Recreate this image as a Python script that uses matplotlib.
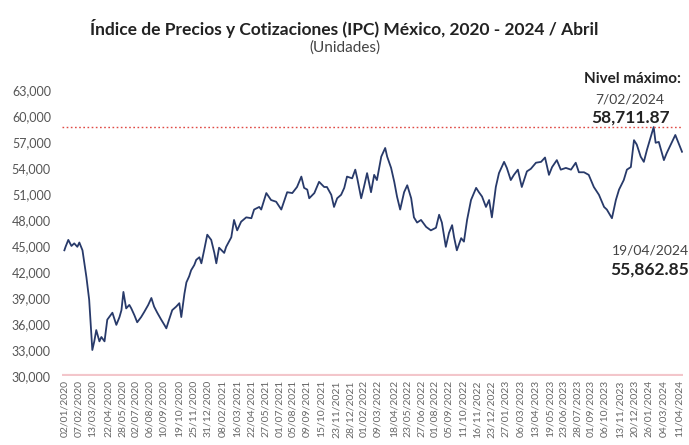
import pandas as pd
import matplotlib.pyplot as plt

# Valores (aprox. semanales)
fechas = [
    "2020-01-02", "2020-01-05", "2020-01-12", "2020-01-20", "2020-01-27", "2020-02-04",
    "2020-02-09", "2020-02-17", "2020-02-27", "2020-03-05", "2020-03-13", "2020-03-18",
    "2020-03-23", "2020-03-31", "2020-04-05", "2020-04-13", "2020-04-20", "2020-04-28",
    "2020-05-03", "2020-05-13", "2020-05-21", "2020-05-26", "2020-05-31", "2020-06-07",
    "2020-06-15", "2020-06-20", "2020-06-28", "2020-07-05", "2020-07-15", "2020-07-23",
    "2020-08-02", "2020-08-10", "2020-08-17", "2020-08-25", "2020-09-04", "2020-09-12",
    "2020-09-17", "2020-09-24", "2020-10-02", "2020-10-12", "2020-10-20", "2020-10-25",
    "2020-11-02", "2020-11-07", "2020-11-14", "2020-11-19", "2020-11-27", "2020-12-02",
    "2020-12-10", "2020-12-15", "2020-12-22", "2020-12-30", "2021-01-09", "2021-01-17",
    "2021-01-22", "2021-01-29", "2021-02-11", "2021-02-16", "2021-03-01", "2021-03-08",
    "2021-03-16", "2021-03-26", "2021-04-08", "2021-04-21", "2021-04-28", "2021-05-11",
    "2021-05-16", "2021-05-29", "2021-06-10", "2021-06-23", "2021-07-06", "2021-07-21",
    "2021-08-03", "2021-08-15", "2021-08-26", "2021-09-02", "2021-09-10", "2021-09-15",
    "2021-09-28", "2021-10-10", "2021-10-23", "2021-10-30", "2021-11-10", "2021-11-17",
    "2021-11-25", "2021-12-05", "2021-12-13", "2021-12-20", "2022-01-02", "2022-01-10",
    "2022-01-15", "2022-01-25", "2022-02-01", "2022-02-09", "2022-02-19", "2022-02-27",
    "2022-03-06", "2022-03-17", "2022-03-27", "2022-04-01", "2022-04-11", "2022-04-19",
    "2022-04-26", "2022-05-04", "2022-05-14", "2022-05-22", "2022-06-01", "2022-06-08",
    "2022-06-16", "2022-06-26", "2022-07-09", "2022-07-21", "2022-08-03", "2022-08-11",
    "2022-08-18", "2022-08-28", "2022-09-05", "2022-09-13", "2022-09-18", "2022-09-25",
    "2022-10-06", "2022-10-13", "2022-10-21", "2022-10-31", "2022-11-13", "2022-11-20",
    "2022-11-28", "2022-12-08", "2022-12-16", "2022-12-23", "2023-01-02", "2023-01-10",
    "2023-01-23", "2023-01-30", "2023-02-09", "2023-02-17", "2023-02-27", "2023-03-09",
    "2023-03-22", "2023-04-01", "2023-04-14", "2023-04-27", "2023-05-07", "2023-05-17",
    "2023-05-25", "2023-06-06", "2023-06-16", "2023-06-29", "2023-07-12", "2023-07-24",
    "2023-08-01", "2023-08-14", "2023-08-26", "2023-09-08", "2023-09-21", "2023-10-04",
    "2023-10-11", "2023-10-24", "2023-11-03", "2023-11-11", "2023-11-23", "2023-12-01",
    "2023-12-11", "2023-12-19", "2023-12-26", "2024-01-05", "2024-01-13", "2024-01-21",
    "2024-02-07", "2024-02-12", "2024-02-20", "2024-03-04", "2024-03-11", "2024-04-02",
    "2024-04-10", "2024-04-19",
]
ipc = [
    44500, 44900, 45700, 45000, 45300, 44900,
    45400, 44500, 41400, 38800, 33000, 34000,
    35300, 34000, 34500, 34000, 36500, 37000,
    37300, 35900, 36800, 37600, 39700, 37800,
    38200, 37800, 37000, 36200, 36800, 37400,
    38200, 39000, 38000, 37300, 36500, 35900,
    35500, 36500, 37600, 38000, 38400, 36800,
    39500, 40800, 41500, 42200, 42800, 43400,
    43700, 43000, 44500, 46300, 45700, 44200,
    43000, 44800, 44200, 44900, 46000, 48000,
    46800, 47800, 48300, 48200, 49200, 49500,
    49200, 51100, 50300, 50100, 49200, 51200,
    51100, 51800, 53000, 51700, 51500, 50500,
    51100, 52400, 51800, 51800, 50900, 49500,
    50500, 50900, 51700, 53000, 52800, 53800,
    52800, 50500, 51800, 53400, 51200, 53200,
    52600, 55300, 56300, 55300, 54000, 52400,
    50700, 49200, 51200, 52000, 50500, 48300,
    47700, 48000, 47200, 46800, 47100, 48600,
    47700, 44900, 46500, 47400, 46000, 44500,
    45900, 45500, 48000, 50300, 51700, 51200,
    50700, 49500, 50300, 48300, 51800, 53400,
    54700, 54000, 52600, 53200, 53800, 51800,
    53600, 53900, 54600, 54700, 55200, 53200,
    54100, 54900, 53800, 54000, 53800, 54600,
    53500, 53500, 53200, 51800, 50900, 49500,
    49200, 48200, 50300, 51500, 52600, 53800,
    54100, 57200, 56700, 55300, 54700, 56100,
    58711.87, 56900, 57000, 54900, 55700, 57800,
    56900, 55862.85,
]
etiquetas_x = [
    "02/01/2020", "07/02/2020", "13/03/2020", "22/04/2020", "28/05/2020", "02/07/2020",
    "06/08/2020", "10/09/2020", "19/10/2020", "25/11/2020", "31/12/2020", "08/02/2021",
    "16/03/2021", "22/04/2021", "27/05/2021", "01/07/2021", "05/08/2021", "09/09/2021",
    "15/10/2021", "23/11/2021", "28/12/2021", "01/02/2022", "09/03/2022", "18/04/2022",
    "23/05/2022", "27/06/2022", "01/08/2022", "05/09/2022", "11/10/2022", "16/11/2022",
    "23/12/2022", "27/01/2023", "06/03/2023", "13/04/2023", "19/05/2023", "23/06/2023",
    "28/07/2023", "01/09/2023", "06/10/2023", "13/11/2023", "20/12/2023", "26/01/2024",
    "04/03/2024", "11/04/2024",
]
maximo = 58711.87
fecha_max = "7/02/2024"
ultimo = 55862.85
fecha_ult = "19/04/2024"

plt.rcParams['font.family'] = ['Lato', 'DejaVu Sans']

x = pd.to_datetime(fechas)
ticks = pd.to_datetime(etiquetas_x, format="%d/%m/%Y")

fig = plt.figure(figsize=(6.89, 4.45), dpi=100)
ax = fig.add_axes([0.09, 0.155, 0.901, 0.643])

ax.plot(x, ipc, color="#283a6a", linewidth=1.3)
ax.axhline(maximo, color="#e04a44", linestyle=(0, (1.2, 1.8)), linewidth=1.0)
ax.axhline(30000, color="#f3c6cb", linewidth=3, zorder=0)

ax.set_ylim(30000, 63000)
ax.set_xlim(x[0] - pd.Timedelta(days=6), x[-1] + pd.Timedelta(days=2))
ax.set_yticks(range(30000, 63001, 3000))
ax.set_yticklabels([f"{v:,}" for v in range(30000, 63001, 3000)])
ax.set_xticks(ticks)
ax.set_xticklabels(etiquetas_x, rotation=90)
ax.tick_params(axis="y", length=0, labelsize=9, labelcolor="#555555", pad=8)
ax.tick_params(axis="x", length=0, labelsize=7.5, labelcolor="#666666", pad=3)
for s in ax.spines.values():
    s.set_visible(False)

fig.text(0.5, 0.935, "Índice de Precios y Cotizaciones (IPC) México, 2020 - 2024 / Abril",
         ha="center", va="center", fontsize=12.5, fontweight="bold", color="#222222")
fig.text(0.5, 0.893, "(Unidades)", ha="center", va="center", fontsize=11, color="#444444")

fig.text(632 / 689, 1 - 79 / 445, "Nivel máximo:", ha="center", va="center",
         fontsize=11, fontweight="bold", color="#222222")
fig.text(630 / 689, 1 - 99 / 445, fecha_max, ha="center", va="center",
         fontsize=10, color="#444444")
fig.text(631 / 689, 1 - 118 / 445, f"{maximo:,.2f}", ha="center", va="center",
         fontsize=12.5, fontweight="bold", color="#222222")
fig.text(650 / 689, 1 - 250 / 445, fecha_ult, ha="center", va="center",
         fontsize=10, color="#444444")
fig.text(650 / 689, 1 - 270 / 445, f"{ultimo:,.2f}", ha="center", va="center",
         fontsize=12.5, fontweight="bold", color="#222222")

plt.savefig("out.png", dpi=100)
